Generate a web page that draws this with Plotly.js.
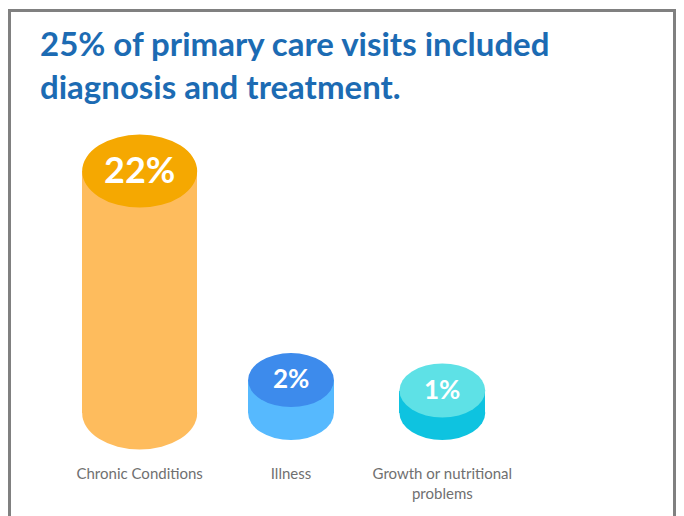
<!DOCTYPE html>
<html>
<head>
<meta charset="utf-8">
<script src="https://cdn.plot.ly/plotly-3.0.1.min.js"></script>
<style>
  html, body { margin: 0; padding: 0; background: #ffffff; }
  #frame { position: absolute; left: 8px; top: 9px; width: 662px; height: 520px;
           border: 3px solid #808080; border-bottom: none; }
  #chart { position: absolute; left: 0; top: 0; width: 684px; height: 516px; }
</style>
</head>
<body>
<div id="frame"></div>
<div id="chart"></div>
<script>
// ---- data ----
const categories = ["Chronic Conditions", "Illness", "Growth or nutritional<br>problems"];
const values = [22, 2, 1];
const valueLabels = ["22%", "2%", "1%"];

// ---- styles ----
const bodyColors = ["#FEBC5D", "#56B9FE", "#0EC3E0"];
const topColors = ["#F5A801", "#3D8BEC", "#5EE1E6"];
const barWidths = [0.76, 0.567, 0.567];      // in category units
const ellipseRy = [36.5, 27, 27];            // pixels
const labelSizes = [36, 26, 26];
const BASE = -1.15;                           // cylinder bottom (value units)

const idx = categories.map((c, i) => i);

const bodyTrace = {
  type: "bar",
  x: categories,
  y: values.map(v => v - BASE),
  base: values.map(() => BASE),
  width: barWidths,
  marker: { color: bodyColors, line: { width: 0 } },
  hoverinfo: "skip",
  showlegend: false
};

const shapes = [];
idx.forEach(i => {
  shapes.push({
    type: "circle", layer: "below", xref: "x", yref: "y",
    x0: i - barWidths[i] / 2, x1: i + barWidths[i] / 2,
    ysizemode: "pixel", yanchor: BASE, y0: -ellipseRy[i], y1: ellipseRy[i],
    fillcolor: bodyColors[i], line: { width: 0 }
  });
  shapes.push({
    type: "circle", layer: "above", xref: "x", yref: "y",
    x0: i - barWidths[i] / 2, x1: i + barWidths[i] / 2,
    ysizemode: "pixel", yanchor: values[i], y0: -ellipseRy[i], y1: ellipseRy[i],
    fillcolor: topColors[i], line: { width: 0 }
  });
});

const annotations = idx.map(i => ({
  x: i, y: values[i], xref: "x", yref: "y",
  text: "<b>" + valueLabels[i] + "</b>",
  showarrow: false, xanchor: "center", yanchor: "middle", yshift: 2,
  font: { family: "Lato, sans-serif", size: labelSizes[i], color: "#ffffff" }
}));

const layout = {
  width: 684, height: 516,
  margin: { l: 64, r: 166, t: 120, b: 61 },
  paper_bgcolor: "rgba(0,0,0,0)",
  plot_bgcolor: "rgba(0,0,0,0)",
  title: {
    text: "<b>25% of primary care visits included<br>diagnosis and treatment.</b>",
    xref: "container", yref: "container",
    x: 40 / 684, xanchor: "left",
    y: 1 - 56 / 516, yanchor: "top",
    font: { family: "Lato, sans-serif", size: 33, color: "#1C6BB3" }
  },
  xaxis: {
    type: "category",
    range: [-0.5, 2.5],
    showgrid: false, zeroline: false, showline: false, ticks: "",
    ticklabelstandoff: 8,
    tickfont: { family: "Lato, sans-serif", size: 15, color: "#707070" },
    fixedrange: true
  },
  yaxis: {
    range: [-5.17, 26.89],
    visible: false, showgrid: false, zeroline: false, fixedrange: true
  },
  shapes: shapes,
  annotations: annotations,
  bargap: 0
};

Plotly.newPlot("chart", [bodyTrace], layout, { displayModeBar: false, staticPlot: true });
</script>
</body>
</html>
